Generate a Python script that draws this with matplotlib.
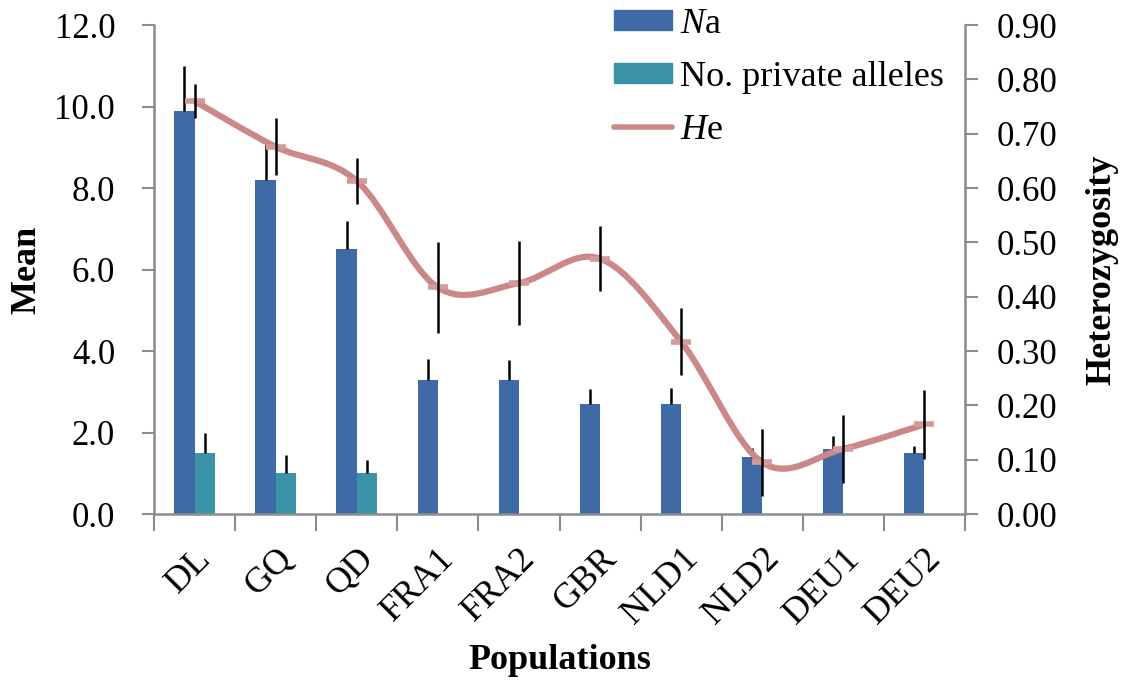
import matplotlib.pyplot as plt
from matplotlib.path import Path
from matplotlib.patches import PathPatch, Patch
from matplotlib.lines import Line2D

plt.rcParams['font.family'] = ['Liberation Serif', 'DejaVu Serif']
plt.rcParams['mathtext.fontset'] = 'custom'
plt.rcParams['mathtext.it'] = 'Liberation Serif:italic'
plt.rcParams['mathtext.rm'] = 'Liberation Serif'

populations = ['DL', 'GQ', 'QD', 'FRA1', 'FRA2', 'GBR', 'NLD1', 'NLD2', 'DEU1', 'DEU2']
na_mean = [9.9, 8.2, 6.5, 3.3, 3.3, 2.7, 2.7, 1.4, 1.6, 1.5]
na_err = [1.1, 0.95, 0.68, 0.5, 0.47, 0.37, 0.4, 0.22, 0.32, 0.18]
private_mean = [1.5, 1.0, 1.0, 0, 0, 0, 0, 0, 0, 0]
private_err = [0.5, 0.45, 0.33, 0, 0, 0, 0, 0, 0, 0]
he_mean = [0.760, 0.676, 0.613, 0.417, 0.425, 0.470, 0.317, 0.095, 0.120, 0.165]
he_err = [0.031, 0.052, 0.042, 0.083, 0.078, 0.060, 0.062, 0.061, 0.063, 0.064]

c_na = '#3e6aa6'
c_priv = '#3b93a8'
c_he = '#cc8888'
c_axis = '#8c8c8c'

fig = plt.figure(figsize=(11.26, 6.82), dpi=100)
ax = fig.add_axes([0.1368, 0.2463, 0.857 - 0.1368, 0.9633 - 0.2463])
ax2 = ax.twinx()

x = list(range(len(populations)))
w = 0.25
x_na = [i - w / 2 for i in x]
x_pr = [i + w / 2 for i in x]

ax.bar(x_na, na_mean, width=w, color=c_na, zorder=2)
ax.errorbar(x_na, na_mean, yerr=[[0] * len(na_err), na_err], fmt='none',
            ecolor='black', elinewidth=1.8, capsize=0, zorder=3)
idx = [i for i in x if private_mean[i] > 0]
ax.bar([x_pr[i] for i in idx], [private_mean[i] for i in idx], width=w,
       color=c_priv, zorder=2)
ax.errorbar([x_pr[i] for i in idx], [private_mean[i] for i in idx],
            yerr=[[0] * len(idx), [private_err[i] for i in idx]], fmt='none',
            ecolor='black', elinewidth=1.8, capsize=0, zorder=3)

# smoothed He line (Excel-style bezier through the points)
verts = [(x[0], he_mean[0])]
codes = [Path.MOVETO]
n = len(x)
for i in range(n - 1):
    p0 = (x[max(i - 1, 0)], he_mean[max(i - 1, 0)])
    p1 = (x[i], he_mean[i])
    p2 = (x[i + 1], he_mean[i + 1])
    p3 = (x[min(i + 2, n - 1)], he_mean[min(i + 2, n - 1)])
    c1 = (p1[0] + (p2[0] - p0[0]) / 6, p1[1] + (p2[1] - p0[1]) / 6)
    c2 = (p2[0] - (p3[0] - p1[0]) / 6, p2[1] - (p3[1] - p1[1]) / 6)
    verts += [c1, c2, p2]
    codes += [Path.CURVE4] * 3
ax2.add_patch(PathPatch(Path(verts, codes), facecolor='none', edgecolor=c_he,
                        lw=4.5, capstyle='round', zorder=4))
ax2.plot(x, he_mean, ls='none', marker='_', ms=14, mew=4, color='#d49a9a', zorder=5)
ax2.errorbar(x, he_mean, yerr=he_err, fmt='none', ecolor='black',
             elinewidth=1.8, capsize=0, zorder=6)

ax.set_xlim(-0.5, len(x) - 0.5)
ax.set_ylim(0, 12)
ax2.set_ylim(0, 0.9)
ax.set_yticks([0, 2, 4, 6, 8, 10, 12])
ax.set_yticklabels([f'{v:.1f}' for v in [0, 2, 4, 6, 8, 10, 12]])
ax2.set_yticks([i / 10 for i in range(10)])
ax2.set_yticklabels([f'{i / 10:.2f}' for i in range(10)])

ax.set_xticks([i - 0.5 for i in range(len(x) + 1)])
ax.set_xticklabels([])
ax.set_xticks(x, minor=True)
ax.set_xticklabels(populations, minor=True, rotation=45, ha='right', va='top',
                   rotation_mode='anchor', fontsize=26)
ax.tick_params(axis='x', which='major', length=12, width=1.5, color=c_axis, direction='out')
ax.tick_params(axis='x', which='minor', length=0, pad=20)
ax.tick_params(axis='y', length=9, width=1.5, color=c_axis, labelsize=25, pad=19)
ax2.tick_params(axis='y', length=9, width=1.5, color=c_axis, labelsize=25, pad=14)

for a in (ax, ax2):
    a.spines['top'].set_visible(False)
    for s in ('left', 'right', 'bottom'):
        a.spines[s].set_color(c_axis)
        a.spines[s].set_linewidth(1.8)
ax.spines['right'].set_visible(False)
ax2.spines['left'].set_visible(False)
ax2.spines['bottom'].set_visible(False)

ax.set_ylabel('Mean', fontsize=26, fontweight='bold', labelpad=8)
ax2.set_ylabel('Heterozygosity', fontsize=26, fontweight='bold', labelpad=20)
ax.set_xlabel('Populations', fontsize=26, fontweight='bold', labelpad=10)

handles = [Patch(color=c_na), Patch(color=c_priv),
           Line2D([], [], color=c_he, lw=4, solid_capstyle='round')]
labels = [r'$\mathit{N}$a', 'No. private alleles', r'$\mathit{H}$e']
fig.legend(handles, labels, loc='upper left', bbox_to_anchor=(614 / 1126, 1 - 8 / 682),
           frameon=False, fontsize=26, handlelength=1.6, handleheight=0.45,
           handletextpad=0.22, labelspacing=0.55, borderpad=0, borderaxespad=0)

fig.savefig('out.png', dpi=100)
